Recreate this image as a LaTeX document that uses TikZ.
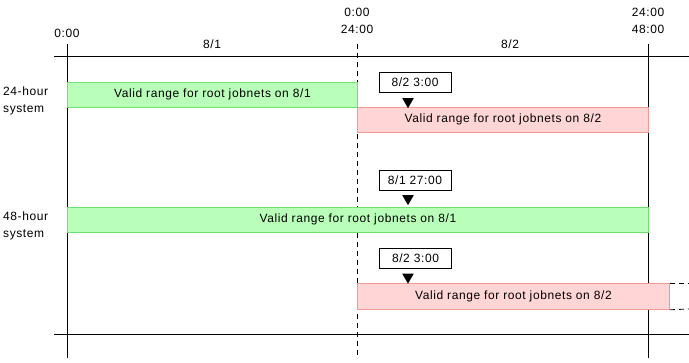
\documentclass[tikz,border=0pt]{standalone}
\usepackage{fontspec}
\setmainfont[LetterSpace=5]{Liberation Sans}
\usepackage{tikz}
\usetikzlibrary{shapes.geometric}
\definecolor{okfill}{RGB}{185,255,185}
\definecolor{okline}{RGB}{110,225,110}
\definecolor{ngfill}{RGB}{255,213,213}
\definecolor{ngline}{RGB}{245,150,150}
\tikzset{
	rangebar/.style={draw=#1line,fill=#1fill,line width=0.8pt,minimum height=25pt,inner sep=0pt,anchor=north west},
	timebox/.style={draw,line width=0.8pt,minimum width=72pt,minimum height=20pt,inner sep=0pt},
	pointer/.style={isosceles triangle,isosceles triangle apex angle=60,shape border rotate=-90,fill=black,inner sep=0pt,minimum height=10pt},
	axis/.style={line width=0.8pt},
	txt/.style={inner sep=0pt,align=center}
}

\begin{document}
\begin{tikzpicture}[x=1pt,y=-1pt,font=\fontsize{12}{16.5}\selectfont]
				\useasboundingbox (0,0) rectangle (689,363);
				\coordinate (h1a) at (54,56);%top axis
				\coordinate (h1b) at (689,56);
				\coordinate (h2a) at (54,334);%bottom axis
				\coordinate (h2b) at (689,334);
				\coordinate (t0a) at (67,44);%0:00
				\coordinate (t0b) at (67,358);
				\coordinate (t24a) at (357,44);%24:00
				\coordinate (t24b) at (357,358);
				\coordinate (t48a) at (648,44);%48:00
				\coordinate (t48b) at (648,358);
				\coordinate (e1) at (689,283);
				\coordinate (e2) at (689,309);
				
				\draw[axis] (h1a) -- (h1b);
				\draw[axis] (h2a) -- (h2b);
				\draw[axis] (t0a) -- (t0b);
				\draw[axis,dash pattern=on 5pt off 4pt] (t24a) -- (t24b);
				\draw[axis] (t48a) -- (t48b);
				
				\node[txt] (l0) at (67,33) {0:00};
				\node[txt] (l24) at (357,21) {0:00\\24:00};
				\node[txt] (l48) at (648,21) {24:00\\48:00};
				\node[txt] (d1) at (212,44) {8/1};
				\node[txt] (d2) at (510,44) {8/2};
				
				\node[txt,align=left,anchor=west] (s24) at (3,101) {24-hour\\system};
				\node[txt,align=left,anchor=west] (s48) at (3,226) {48-hour\\system};
				
				\node[rangebar=ok,minimum width=290pt] (r1) at (67,82) {Valid range for root jobnets on 8/1};
				\node[rangebar=ng,minimum width=291pt] (r2) at (357,107) {Valid range for root jobnets on 8/2};
				\node[rangebar=ok,minimum width=581pt] (r3) at (67,207) {Valid range for root jobnets on 8/1};
				\node[rangebar=ng,minimum width=312pt,minimum height=26pt] (r4) at (357,283) {Valid range for root jobnets on 8/2};
				
				\node[timebox] (b1) at (415,82) {8/2 3:00};
				\node[timebox] (b2) at (415,180) {8/1 27:00};
				\node[timebox] (b3) at (415.5,258.5) {8/2 3:00};
				\node[pointer] (p1) at (408,101.5) {};
				\node[pointer] (p2) at (408,198.5) {};
				\node[pointer] (p3) at (408,277) {};
				
				\draw[axis,dash pattern=on 5pt off 4pt] (r4.north east) -- (e1);
				\draw[axis,dash pattern=on 5pt off 4pt] (r4.south east) -- (e2);
			\end{tikzpicture}
\end{document}
